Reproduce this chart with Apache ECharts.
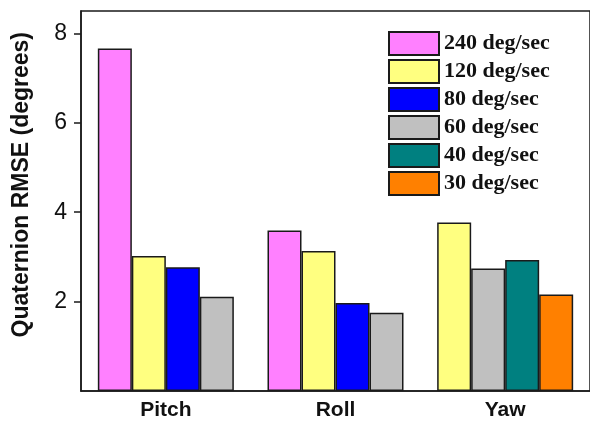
<!DOCTYPE html>
<html>
<head>
<meta charset="utf-8">
<script src="https://cdn.jsdelivr.net/npm/echarts@6/dist/echarts.min.js"></script>
<style>
  html, body { margin: 0; padding: 0; background: #fff; }
  #chart { width: 590px; height: 421px; }
</style>
</head>
<body>
<div id="chart"></div>
<script>
// Axes being compared
const axesNames = ['Pitch', 'Roll', 'Yaw'];
const yTicks = [2, 4, 6, 8];

// Quaternion RMSE (degrees) per rotation rate; null = not tested
const rate240 = [7.66, 3.59, null];
const rate120 = [3.02, 3.13, 3.77];
const rate80  = [2.77, 1.97, null];
const rate60  = [2.11, 1.75, 2.74];
const rate40  = [null, null, 2.93];
const rate30  = [null, null, 2.16];

const rates = [
  { name: '240 deg/sec', values: rate240, color: '#ff80ff' },
  { name: '120 deg/sec', values: rate120, color: '#ffff80' },
  { name: '80 deg/sec',  values: rate80,  color: '#0000ff' },
  { name: '60 deg/sec',  values: rate60,  color: '#c0c0c0' },
  { name: '40 deg/sec',  values: rate40,  color: '#008080' },
  { name: '30 deg/sec',  values: rate30,  color: '#ff8000' }
];

// Each axis shows only the rates that were tested, packed left to right
// into four slots. A slot is a stack so different rates can share it.
const series = [];
axesNames.forEach((axisName, ci) => {
  let slot = 0;
  rates.forEach((r) => {
    const v = r.values[ci];
    if (v == null) return;
    const data = axesNames.map((_, k) => (k === ci ? v : '-'));
    series.push({
      type: 'bar',
      name: r.name,
      stack: 'slot' + slot,
      data: data,
      barWidth: 34,
      barGap: '0%',
      itemStyle: { color: r.color, borderColor: '#1a1a1a', borderWidth: 1.5 }
    });
    slot++;
  });
});

const chart = echarts.init(document.getElementById('chart'));
chart.setOption({
  animation: false,
  backgroundColor: '#fff',
  grid: {
    left: 81, top: 11, right: -4, bottom: 29,
    show: true, borderColor: '#1a1a1a', borderWidth: 1.5, backgroundColor: 'transparent'
  },
  legend: {
    orient: 'vertical',
    left: 383, top: 26,
    icon: 'rect',
    itemWidth: 50, itemHeight: 23, itemGap: 3,
    data: rates.map(r => r.name),
    textStyle: { fontFamily: 'Liberation Serif', fontWeight: 'bold', fontSize: 22, color: '#111' }
  },
  graphic: [{
    type: 'text',
    left: 10, top: 32,
    rotation: Math.PI / 2,
    style: {
      text: 'Quaternion RMSE (degrees)',
      font: 'bold 23px Arial, "Liberation Sans"',
      fill: '#111'
    }
  }],
  xAxis: {
    type: 'category',
    data: axesNames,
    axisLine: { lineStyle: { color: '#1a1a1a', width: 1.5 } },
    axisTick: { show: false },
    axisLabel: { fontFamily: 'Arial, Liberation Sans', fontWeight: 'bold', fontSize: 21, color: '#111', margin: 9 }
  },
  yAxis: {
    type: 'value',
    min: 0, max: 8.5, interval: 2,
    splitLine: { show: false },
    axisLine: { show: true, lineStyle: { color: '#1a1a1a', width: 1.5 } },
    axisTick: { show: true, inside: false, length: 7, customValues: yTicks, lineStyle: { color: '#1a1a1a', width: 1.5 } },
    axisLabel: {
      fontFamily: 'Arial, Liberation Sans', fontSize: 23, color: '#111', margin: 14,
      customValues: yTicks
    }
  },
  series: series
});
</script>
</body>
</html>
